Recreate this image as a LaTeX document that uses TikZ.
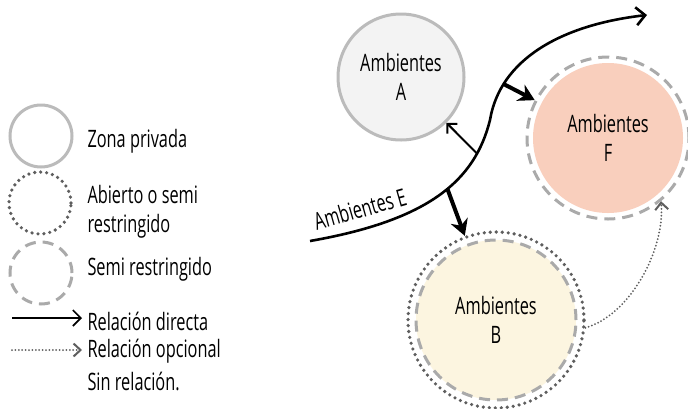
\documentclass[tikz,border=0pt]{standalone}
\usepackage{fontspec}
\setmainfont[FakeStretch=0.68]{Open Sans}
\usetikzlibrary{positioning,arrows.meta}

\definecolor{ringgray}{HTML}{BBBBBB}
\definecolor{dashgray}{HTML}{AAAAAA}
\definecolor{dotgray}{HTML}{5E5E5E}
\definecolor{fillA}{HTML}{F3F3F3}
\definecolor{fillF}{HTML}{F9CFBD}
\definecolor{fillB}{HTML}{FCF5E0}

\begin{document}
\begin{tikzpicture}[x=1pt, y=-1pt,
      font=\fontsize{24}{29}\selectfont,
      zone/.style={circle, align=center, inner sep=0pt},
      privada/.style={zone, draw=ringgray, line width=3pt},
      abierto/.style={zone, draw=dotgray, line width=3.6pt, dash pattern=on 0pt off 6pt, line cap=round},
      semi/.style={zone, draw=dashgray, line width=3pt, dash pattern=on 11pt off 7pt},
      legtext/.style={anchor=west, align=left},
      directa/.style={-{Straight Barb[length=8pt,width=16pt]}, line width=1.6pt},
      opcional/.style={dotgray, line width=2pt, dash pattern=on 0pt off 3.4pt, line cap=round, -{Straight Barb[length=7pt,width=13pt]}},
      camino/.style={-{Straight Barb[length=9pt,width=18pt]}, line width=2.6pt},
      ramal/.style={-{Straight Barb[length=7pt,width=14pt]}, line width=2pt},
      ramalgrueso/.style={-{Stealth[length=16pt,width=18pt]}, line width=4pt},
      ]
      \path[fill=white, use as bounding box] (0,0) rectangle (688,408);

      % legend
      \node[privada, minimum size=62pt] (lp) at (41,136) {};
      \node[abierto, minimum size=62pt] (la) at (40,203) {};
      \node[semi, minimum size=62pt] (ls) at (41,273) {};
      \node[legtext] (tp) at (84,141) {Zona privada};
      \node[legtext] (ta) at (84,212) {Abierto o semi\\restringido};
      \node[legtext] (ts) at (84,269) {Semi restringido};
      \node[legtext] (td) at (84,321) {Relación directa};
      \node[legtext] (to) at (84,351) {Relación opcional};
      \node[legtext] (tn) at (84,381) {Sin relación.};
      \draw[directa] ([xshift=-72pt,yshift=3pt]td.west) -- ([xshift=-2pt,yshift=3pt]td.west);
      \draw[opcional] ([xshift=-72pt,yshift=1pt]to.west) -- ([xshift=-2pt,yshift=1pt]to.west);

      % ambientes
      \node[privada, fill=fillA, minimum size=126pt] (A) at (401,77) {Ambientes\\A};
      \node[zone, fill=fillF, minimum size=150pt] (F) at (608,138) {Ambientes\\F};
      \node[semi, minimum size=162pt] (Fring) at (608,138) {};
      \node[abierto, minimum size=176pt] (Bout) at (496,320) {};
      \node[semi, fill=fillB, minimum size=160pt] (B) at (496,320) {Ambientes\\B};

      % circulacion E
      \coordinate (e0) at (310,241);
      \coordinate (e1) at (490,120);
      \coordinate (e2) at (647,15);
      \draw[camino] (e0) .. controls (430,220) and (475,180) .. (e1)
            coordinate[pos=0.55] (eB) coordinate[pos=0.8] (eA)
            .. controls (500,60) and (560,25) .. (e2)
            coordinate[pos=0.22] (eF);
      \node[rotate=16] (E) at (360,209) {Ambientes E};

      \draw[ramal] (eA) -- (A);
      \draw[ramalgrueso] (eF) -- (Fring);
      \draw[ramalgrueso] (eB) -- (Bout);
      \draw[opcional] (Bout.-5) .. controls (630,315) and (665,250) .. (Fring.-50);
\end{tikzpicture}
\end{document}
